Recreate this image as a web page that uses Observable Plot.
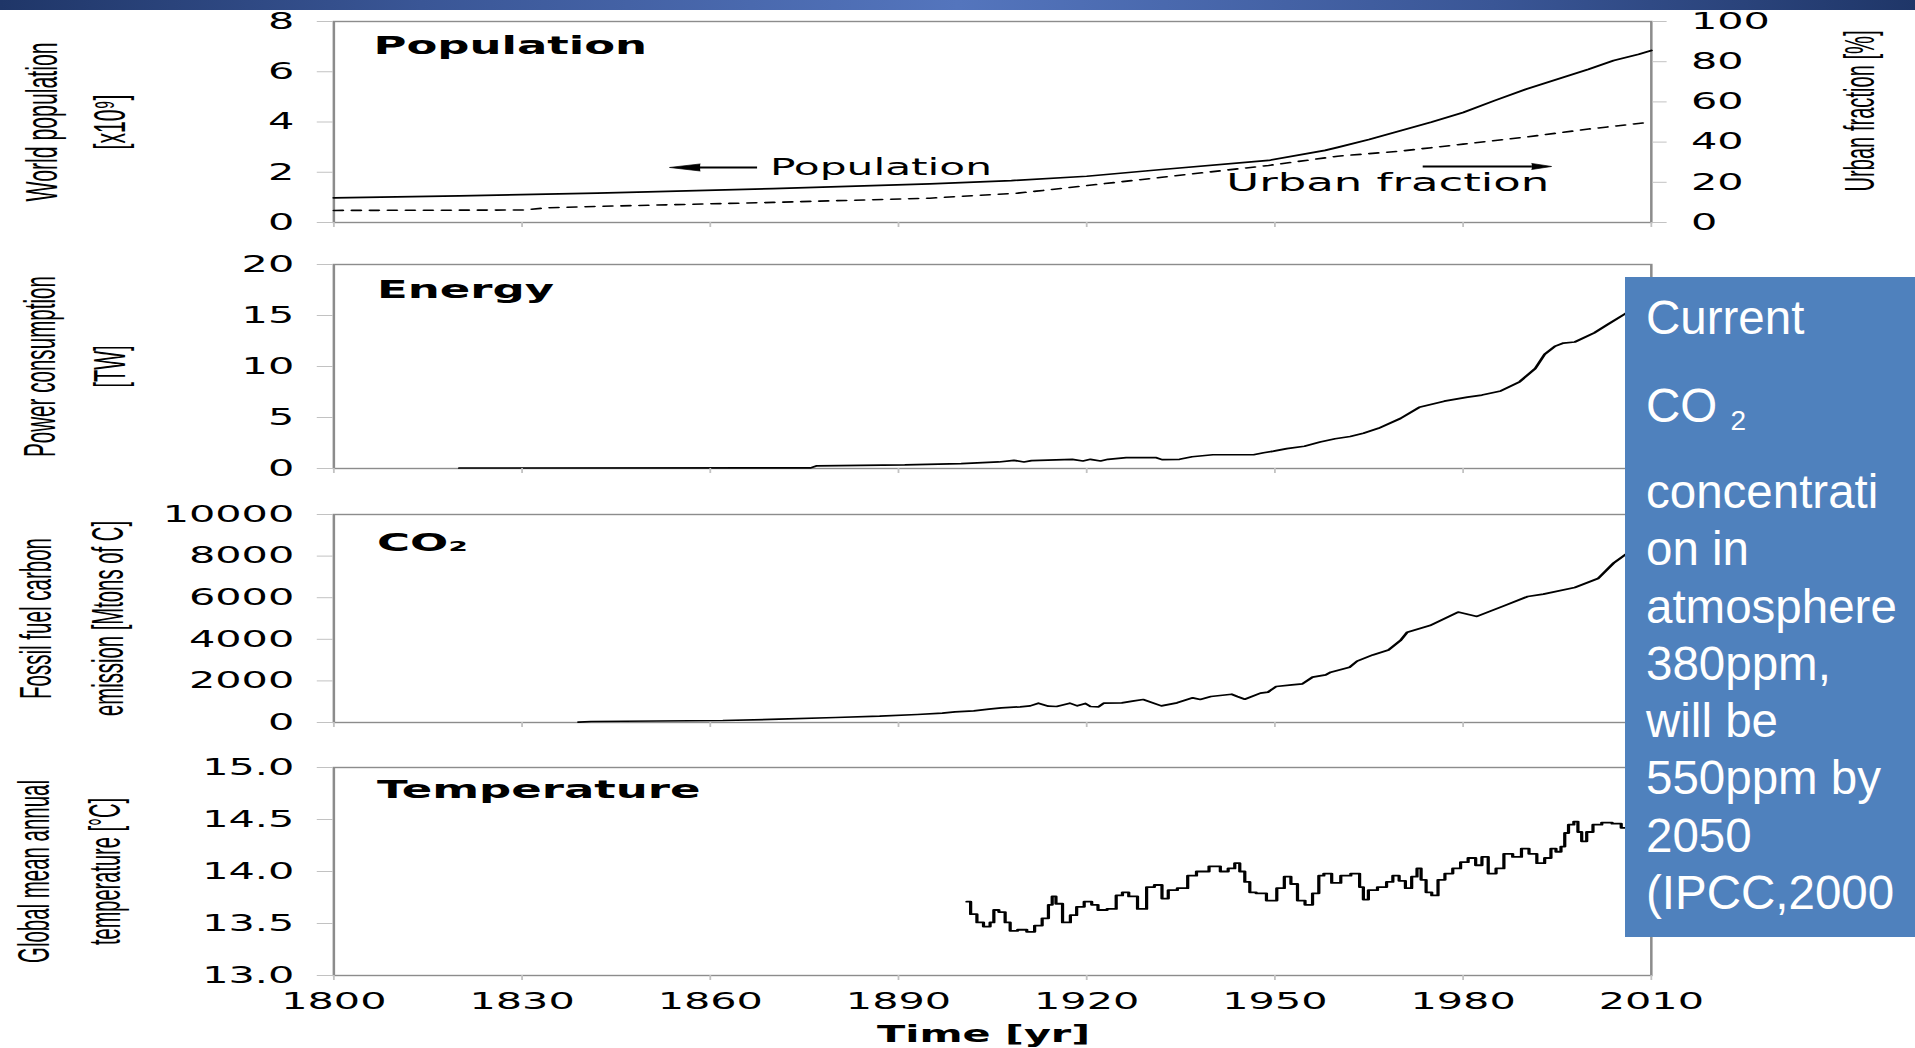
<!DOCTYPE html>
<html>
<head>
<meta charset="utf-8">
<script src="https://cdn.jsdelivr.net/npm/d3@7"></script>
<script src="https://cdn.jsdelivr.net/npm/@observablehq/plot@0.6"></script>
<style>
html, body { margin: 0; padding: 0; background: #fff; }
#page { position: relative; width: 1915px; height: 1048px; overflow: hidden; background: #fff; }
#topbar { position: absolute; left: 0; top: 0; width: 1915px; height: 10px; z-index: 3;
  background: linear-gradient(to right, #1f3668 0%, #3a5696 22%, #5475bd 50%, #3a5696 78%, #1f3668 100%); }
#note { position: absolute; left: 1625px; top: 277px; width: 290px; height: 660px; background: #4f81bd;
  color: #fff; font-family: "Liberation Sans", Arial, sans-serif; font-size: 47.5px; z-index: 4; overflow: hidden; }
#note .ln { position: absolute; left: 21px; white-space: nowrap; line-height: 57.3px; }
#note sub { font-size: 28px; vertical-align: -8px; line-height: 0; }
</style>
</head>
<body>
<div id="page">
  <div id="topbar"></div>
  <div id="note">
    <div class="ln" style="top:12px">Current</div>
    <div class="ln" style="top:100px">CO <sub>2</sub></div>
    <div class="ln" style="top:186px">concentrati<br>on in<br>atmosphere<br>380ppm,<br>will be<br>550ppm by<br>2050<br>(IPCC,2000</div>
  </div>
</div>
<script>
// ---------- data ----------
const xTicks = [1800, 1830, 1860, 1890, 1920, 1950, 1980, 2010];

const popYears  = [1800, 1820, 1842, 1850, 1870, 1895, 1908, 1920, 1932, 1949, 1958, 1960, 1965, 1970, 1975, 1980, 1985, 1990, 1995, 2000, 2004, 2008, 2010];
const popValues = [0.98, 1.06, 1.17, 1.22, 1.35, 1.54, 1.67, 1.84, 2.11, 2.47, 2.87, 2.99, 3.3, 3.65, 4.0, 4.38, 4.85, 5.3, 5.7, 6.1, 6.45, 6.7, 6.85];

const urbanYears  = [1800, 1830, 1834, 1842, 1870, 1895, 1909, 1912, 1932, 1949, 1960, 1970, 1980, 1990, 2000, 2010];
const urbanValues = [6, 6.2, 7.3, 8, 10, 12.1, 14.6, 15.6, 22.5, 28.4, 33, 35.5, 39, 42.5, 46.5, 50];

const energyYears  = [1820, 1876, 1877, 1891, 1900, 1906, 1908.4, 1910, 1911.2, 1917.7, 1919.4, 1920.6, 1922.2, 1923.4, 1926.3, 1931.1, 1932, 1934.8, 1936.8, 1940.1, 1946.6, 1948.2, 1949.8, 1951.9, 1954.7, 1957.2, 1959.6, 1962, 1964.1, 1966.5, 1970, 1973, 1977, 1980.7, 1983, 1986, 1989, 1991.5, 1993, 1994.7, 1996, 1997.8, 2000.9, 2003, 2005.9, 2008, 2010];
const energyValues = [0.05, 0.06, 0.26, 0.35, 0.48, 0.64, 0.8, 0.64, 0.77, 0.9, 0.74, 0.9, 0.74, 0.9, 1.06, 1.06, 0.87, 0.9, 1.15, 1.35, 1.35, 1.54, 1.7, 1.95, 2.18, 2.6, 2.92, 3.14, 3.46, 3.94, 4.9, 6.0, 6.6, 7.0, 7.2, 7.6, 8.5, 9.8, 11.2, 12.0, 12.3, 12.4, 13.3, 14.1, 15.2, 15.8, 16.2];

const co2Years  = [1839, 1841, 1862, 1871, 1880, 1887, 1893, 1897, 1899, 1902, 1904.4, 1906.4, 1909.4, 1911, 1912.3, 1913.9, 1915.2, 1917.3, 1918.5, 1919.8, 1920.6, 1921.9, 1922.7, 1925.6, 1927.3, 1929, 1931.9, 1934.4, 1936.9, 1938.1, 1939.8, 1943.1, 1944, 1945.2, 1947.7, 1948.9, 1950.2, 1952.7, 1954.4, 1956, 1958.1, 1958.9, 1961.9, 1963.1, 1965.6, 1968.1, 1970, 1971.1, 1974.7, 1979.2, 1982.2, 1986.6, 1990.3, 1992.8, 1997.8, 2001.5, 2004, 2006, 2008];
const co2Values = [16, 48, 96, 160, 240, 305, 385, 450, 513, 561, 641, 705, 753, 800, 930, 785, 770, 930, 800, 915, 770, 753, 930, 945, 1025, 1105, 800, 945, 1185, 1105, 1250, 1360, 1250, 1120, 1410, 1460, 1730, 1810, 1860, 2180, 2290, 2420, 2660, 2950, 3250, 3490, 3940, 4340, 4660, 5310, 5100, 5620, 6060, 6170, 6490, 6920, 7670, 8100, 8400];

const tempYears = [1900.9, 1902.1, 1902.9, 1904.2, 1905, 1905.4, 1906.6, 1907.4, 1908.2, 1909.8, 1911.1, 1912.3, 1913.5, 1914.3, 1914.7, 1915.5, 1916.8, 1918, 1918.8, 1920.4, 1921.2, 1922.4, 1924.1, 1925.3, 1926.1, 1927.3, 1928.9, 1930.2, 1931.4, 1932.6, 1933.4, 1935.5, 1936.7, 1938.3, 1940.7, 1941.9, 1943.2, 1944, 1944.8, 1945.6, 1946.4, 1947.6, 1949.7, 1950.9, 1952.1, 1953, 1954.2, 1955.4, 1956.6, 1957.4, 1958.2, 1959.9, 1961.1, 1963.1, 1963.9, 1964.3, 1965.5, 1967.2, 1968.4, 1969.2, 1970.4, 1971.2, 1972.4, 1972.9, 1973.7, 1974.5, 1975.5, 1976.5, 1977.7, 1979, 1980.2, 1981.4, 1982.6, 1983.4, 1984.6, 1985.9, 1987.1, 1988.7, 1989.9, 1991.1, 1992.4, 1993.6, 1994.4, 1995.2, 1996, 1996.4, 1997.2, 1998.1, 1998.5, 1999.3, 2000.1, 2001.3, 2002.9, 2004.6, 2005.8, 2007, 2008];
const tempValues = [13.71, 13.59, 13.51, 13.47, 13.51, 13.63, 13.61, 13.51, 13.43, 13.44, 13.42, 13.48, 13.55, 13.68, 13.76, 13.69, 13.51, 13.58, 13.66, 13.71, 13.68, 13.63, 13.64, 13.77, 13.80, 13.76, 13.64, 13.85, 13.87, 13.74, 13.82, 13.84, 13.96, 14.00, 14.05, 14.00, 14.03, 14.08, 14.00, 13.90, 13.80, 13.79, 13.72, 13.84, 13.95, 13.88, 13.72, 13.68, 13.79, 13.96, 13.98, 13.89, 13.96, 13.98, 13.85, 13.73, 13.82, 13.85, 13.90, 13.96, 13.91, 13.84, 13.95, 14.03, 13.92, 13.80, 13.77, 13.92, 13.98, 14.03, 14.09, 14.13, 14.06, 14.14, 13.98, 14.03, 14.17, 14.14, 14.22, 14.17, 14.08, 14.13, 14.22, 14.19, 14.24, 14.37, 14.45, 14.48, 14.38, 14.29, 14.38, 14.45, 14.47, 14.46, 14.42, 14.44, 14.46];

const popTicks    = [0, 2, 4, 6, 8];
const urbanTicks  = [0, 20, 40, 60, 80, 100];
const energyTicks = [0, 5, 10, 15, 20];
const co2Ticks    = [0, 2000, 4000, 6000, 8000, 10000];
const tempTicks   = [13, 13.5, 14, 14.5, 15];

// annotation anchors (data units of the population panel)
const popArrow   = [{tip: 1853.5, tail: 1867.6, y: 2.19, label: "Population", labelX: 1869.5, labelY: 2.19}];
const urbanArrow = [{tip: 1994.1, tail: 1973.7, y: 2.23, label: "Urban fraction", labelX: 1968, labelY: 1.59}];

// rotated axis titles and their rendered lengths (px along the text)
const titleLengths = {
  "World population": 159, "[x10⁹]": 55,
  "Power consumption": 181, "[TW]": 42,
  "Fossil fuel carbon": 161, "emission [Mtons of C]": 195,
  "Global mean annual": 183, "temperature [°C]": 147,
  "Urban fraction [%]": 161
};

// ---------- helpers ----------
const zip = (xs, ys) => xs.map((x, i) => ({year: x, v: ys[i]}));
const pop = zip(popYears, popValues);
const urban = zip(urbanYears, urbanValues);
const energy = zip(energyYears, energyValues);
const co2 = zip(co2Years, co2Values);
const temp = zip(tempYears, tempValues);
const urbanToPop = 8 / 100;

const INNER_W = 1064, FULL_W = 1915;
const page = document.getElementById("page");
const TICK = "#c2c2c2";

function yLeft(ticks, fmt) {
  return Plot.axisY({ticks, tickFormat: fmt, tickSize: 9, tickPadding: 13, stroke: TICK, fill: "black", label: null});
}
function xMarks() {
  return Plot.axisX({ticks: xTicks, tickFormat: () => "", tickSize: 5, stroke: TICK, fill: "none", label: null});
}
function yTitle(lines, dxs, dy = 0) {
  return lines.map((t, i) => Plot.text([t], {text: d => d, frameAnchor: "left", dx: dxs[i], dy, rotate: -90,
    textAnchor: "middle", lineAnchor: "middle", fontFamily: "Liberation Sans", fontSize: 25, fill: "black"}));
}
function panelTitle(t, dx, dy) {
  return Plot.text([t], {text: d => d, frameAnchor: "top-left", dx, dy, textAnchor: "start", lineAnchor: "middle",
    fontWeight: "bold", fontSize: 25, fill: "black"});
}

function panel({frameTop, frameH, mt = 16, mb = 14, yDomain, marks}) {
  const h = frameH + mt + mb;
  const svg = Plot.plot({
    width: INNER_W, height: h,
    marginLeft: 185, marginRight: 147, marginTop: mt, marginBottom: mb,
    x: {domain: [1800, 2010]},
    y: {domain: yDomain},
    style: {fontFamily: "DejaVu Sans", fontSize: "23px", color: "black", background: "transparent"},
    marks
  });
  svg.setAttribute("width", FULL_W);
  svg.setAttribute("preserveAspectRatio", "none");
  Object.assign(svg.style, {position: "absolute", left: "0px", top: (frameTop - mt) + "px",
    width: FULL_W + "px", height: h + "px", maxWidth: "none", background: "transparent"});
  page.appendChild(svg);
  // condense the rotated titles along their length (like the narrow font of the original)
  svg.querySelectorAll("text").forEach(t => {
    const len = titleLengths[t.textContent];
    if (!len) return;
    const natural = t.getComputedTextLength();
    const tr = t.getAttribute("transform");
    if (natural > 0 && tr && !t.hasAttribute("x")) {
      t.setAttribute("transform", tr + ` scale(${(len / natural).toFixed(4)},1)`);
    } else {
      t.setAttribute("font-size", 22);
    }
  });
}

const frame = () => Plot.frame({stroke: "#8c8c8c", strokeWidth: 1.4});

// ---------- Panel 1: population ----------
panel({
  frameTop: 21, frameH: 201, yDomain: [0, 8],
  marks: [
    frame(),
    Plot.line(pop, {x: "year", y: "v", stroke: "black", strokeWidth: 1.7}),
    Plot.line(urban, {x: "year", y: d => d.v * urbanToPop, stroke: "black", strokeWidth: 1.6, strokeDasharray: "5,5"}),
    yLeft(popTicks, d => String(d)),
    Plot.axisY({anchor: "right", ticks: urbanTicks.map(v => v * urbanToPop), tickFormat: v => String(Math.round(v / urbanToPop)),
      tickSize: 8, tickPadding: 14, stroke: TICK, fill: "black", label: null}),
    xMarks(),
    Plot.ruleY(popArrow, {y: "y", x1: d => d.tip + 3, x2: "tail", stroke: "black", strokeWidth: 2}),
    Plot.vector(popArrow, {x: "tip", y: "y", rotate: 270, length: 17, r: 3.5, shape: "spike", anchor: "end", fill: "black", stroke: "black", strokeWidth: 0.5}),
    Plot.text(popArrow, {x: "labelX", y: "labelY", text: "label", textAnchor: "start", fontSize: 23.5, fill: "black"}),
    Plot.ruleY(urbanArrow, {y: "y", x1: "tail", x2: d => d.tip - 3, stroke: "black", strokeWidth: 2}),
    Plot.vector(urbanArrow, {x: "tip", y: "y", rotate: 90, length: 11, r: 3, shape: "spike", anchor: "end", fill: "black", stroke: "black", strokeWidth: 0.5}),
    Plot.text(urbanArrow, {x: "labelX", y: "labelY", text: "label", textAnchor: "middle", fontSize: 25, fill: "black"}),
    panelTitle("Population", 22, 24),
    ...yTitle(["World population", "[x10⁹]"], [-162, -124]),
    Plot.text(["Urban fraction [%]"], {text: d => d, frameAnchor: "right", dx: 116, dy: -11, rotate: -90,
      textAnchor: "middle", lineAnchor: "middle", fontFamily: "Liberation Sans", fontSize: 24, fill: "black"})
  ]
});

// ---------- Panel 2: energy ----------
panel({
  frameTop: 264, frameH: 204, yDomain: [0, 20],
  marks: [
    frame(),
    Plot.line(energy, {x: "year", y: "v", stroke: "black", strokeWidth: 1.7}),
    yLeft(energyTicks, d => String(d)),
    xMarks(),
    panelTitle("Energy", 24, 25),
    ...yTitle(["Power consumption", "[TW]"], [-163, -124])
  ]
});

// ---------- Panel 3: CO2 ----------
panel({
  frameTop: 514, frameH: 208, yDomain: [0, 10000],
  marks: [
    frame(),
    Plot.line(co2, {x: "year", y: "v", stroke: "black", strokeWidth: 1.7}),
    yLeft(co2Ticks, d => String(d)),
    xMarks(),
    panelTitle("CO₂", 24, 28),
    ...yTitle(["Fossil fuel carbon", "emission [Mtons of C]"], [-165, -125])
  ]
});

// ---------- Panel 4: temperature ----------
panel({
  frameTop: 767, frameH: 208, mb: 81, yDomain: [13, 15],
  marks: [
    frame(),
    Plot.line(temp, {x: "year", y: "v", stroke: "black", strokeWidth: 1.8, curve: "step"}),
    yLeft(tempTicks, d3.format(".1f")),
    Plot.axisX({ticks: xTicks, tickFormat: d => String(d), tickSize: 5, tickPadding: 12, stroke: TICK, fill: "black", label: null}),
    Plot.text(["Time [yr]"], {text: d => d, frameAnchor: "bottom", dx: -5, dy: 59, lineAnchor: "middle",
      fontWeight: "bold", fontSize: 23, fill: "black"}),
    panelTitle("Temperature", 24, 22),
    ...yTitle(["Global mean annual", "temperature [°C]"], [-166, -127])
  ]
});
</script>
</body>
</html>
